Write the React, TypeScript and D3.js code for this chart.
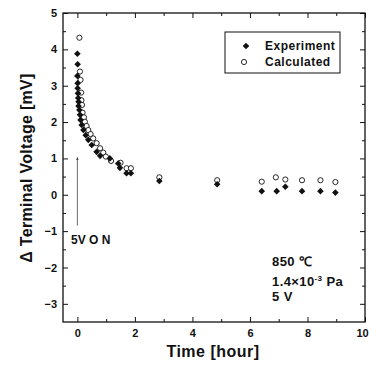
import { useEffect, useRef } from "react";
import * as d3 from "d3";

// Experiment (filled diamonds)
const expTime = [0.0, 0.01, 0.0, 0.01, 0.01, 0.02, 0.03, 0.04, 0.04, 0.07, 0.09, 0.11, 0.15, 0.21, 0.29, 0.38, 0.5, 0.67, 0.79, 1.13, 1.42, 1.48, 1.71, 1.86, 2.85, 4.86, 6.41, 6.93, 7.23, 7.81, 8.45, 8.97];
const expVolt = [3.88, 3.59, 3.27, 3.07, 2.93, 2.79, 2.66, 2.56, 2.44, 2.33, 2.2, 2.06, 1.92, 1.78, 1.64, 1.51, 1.37, 1.18, 1.07, 1.0, 0.86, 0.74, 0.59, 0.59, 0.38, 0.29, 0.1, 0.1, 0.22, 0.1, 0.1, 0.06];

// Calculated (open circles)
const calcTime = [0.07, 0.09, 0.11, 0.13, 0.14, 0.16, 0.18, 0.23, 0.26, 0.32, 0.38, 0.46, 0.55, 0.67, 0.79, 0.9, 0.99, 1.17, 1.5, 1.71, 1.86, 2.85, 4.86, 6.41, 6.9, 7.23, 7.81, 8.45, 8.97];
const calcVolt = [4.32, 3.39, 3.16, 2.81, 2.6, 2.47, 2.26, 2.13, 2.01, 1.89, 1.78, 1.67, 1.55, 1.42, 1.28, 1.16, 1.05, 0.93, 0.88, 0.73, 0.73, 0.48, 0.4, 0.36, 0.48, 0.42, 0.4, 0.4, 0.35];

const xTicks = [0, 2, 4, 6, 8, 10];
const xMinor = [1, 3, 5, 7, 9];
const yTicks = [-3, -2, -1, 0, 1, 2, 3, 4, 5];
const yMinor = [-2.5, -1.5, -0.5, 0.5, 1.5, 2.5, 3.5, 4.5];

const FONT = "'Liberation Sans', Arial, sans-serif";

export default function App() {
  const svgRef = useRef<SVGSVGElement | null>(null);

  useEffect(() => {
    if (!svgRef.current) return;
    const svg = d3.select(svgRef.current);
    svg.selectAll("*").remove();

    const left = 63, right = 365, top = 13, bottom = 322;

    const x = d3.scaleLinear().domain([-0.5, 10]).range([left, right]);
    const y = d3.scaleLinear().domain([-3.5, 5]).range([bottom, top]);

    const styleAxis = (g: any) => {
      g.select(".domain").remove();
      g.selectAll("line").attr("stroke", "#111").attr("stroke-width", 1);
      g.selectAll("text")
        .attr("fill", "#111")
        .style("font-family", FONT)
        .style("font-weight", "bold")
        .style("font-size", "11px");
    };

    // bottom
    const bx = svg.append("g").attr("transform", `translate(0,${bottom})`)
      .call(d3.axisBottom(x).tickValues(xTicks).tickSize(-5).tickPadding(7).tickFormat(d3.format("d")))
      .call(styleAxis);
    // last label sits at the right edge, nudge it in a little
    bx.selectAll("text").filter((d: any) => d === 10).attr("dx", -3);
    svg.append("g").attr("transform", `translate(0,${bottom})`)
      .call(d3.axisBottom(x).tickValues(xMinor).tickSize(-3).tickFormat(() => ""))
      .call(styleAxis);
    // top
    svg.append("g").attr("transform", `translate(0,${top})`)
      .call(d3.axisTop(x).tickValues(xTicks).tickSize(-5).tickFormat(() => ""))
      .call(styleAxis);
    svg.append("g").attr("transform", `translate(0,${top})`)
      .call(d3.axisTop(x).tickValues(xMinor).tickSize(-3).tickFormat(() => ""))
      .call(styleAxis);
    // left
    svg.append("g").attr("transform", `translate(${left},0)`)
      .call(d3.axisLeft(y).tickValues(yTicks).tickSize(-5).tickPadding(6).tickFormat(d3.format("d")))
      .call(styleAxis);
    svg.append("g").attr("transform", `translate(${left},0)`)
      .call(d3.axisLeft(y).tickValues(yMinor).tickSize(-3).tickFormat(() => ""))
      .call(styleAxis);
    // right
    svg.append("g").attr("transform", `translate(${right},0)`)
      .call(d3.axisRight(y).tickValues(yTicks).tickSize(-5).tickFormat(() => ""))
      .call(styleAxis);
    svg.append("g").attr("transform", `translate(${right},0)`)
      .call(d3.axisRight(y).tickValues(yMinor).tickSize(-3).tickFormat(() => ""))
      .call(styleAxis);

    // frame
    svg.append("rect")
      .attr("x", left).attr("y", top)
      .attr("width", right - left).attr("height", bottom - top)
      .attr("fill", "none").attr("stroke", "#111").attr("stroke-width", 1.3);

    // 5V ON arrow
    svg.append("defs").append("marker")
      .attr("id", "arr").attr("viewBox", "0 0 10 10")
      .attr("refX", 5).attr("refY", 5)
      .attr("markerWidth", 5).attr("markerHeight", 8)
      .attr("orient", "auto")
      .append("path").attr("d", "M0,2 L10,5 L0,8 Z").attr("fill", "#333");
    svg.append("line")
      .attr("x1", x(0)).attr("x2", x(0))
      .attr("y1", y(-0.85)).attr("y2", y(1.0))
      .attr("stroke", "#444").attr("stroke-width", 0.8)
      .attr("marker-end", "url(#arr)");
    svg.append("text")
      .attr("x", x(-0.22)).attr("y", y(-1.35))
      .style("font-family", FONT).style("font-weight", "bold").style("font-size", "12px")
      .attr("fill", "#111")
      .text("5V  O N");

    // square rotated 45 degrees
    const diamond = "M0,-3.3 L3.3,0 L0,3.3 L-3.3,0 Z";

    // calculated circles
    svg.append("g").selectAll("circle")
      .data(calcTime.map((t, i) => [t, calcVolt[i]]))
      .join("circle")
      .attr("cx", d => x(d[0])).attr("cy", d => y(d[1]))
      .attr("r", 2.6)
      .attr("fill", "white").attr("stroke", "#111").attr("stroke-width", 0.9);

    // experiment diamonds
    svg.append("g").selectAll("path")
      .data(expTime.map((t, i) => [t, expVolt[i]]))
      .join("path")
      .attr("d", diamond)
      .attr("transform", d => `translate(${x(d[0])},${y(d[1])})`)
      .attr("fill", "#111");

    // legend
    const lg = svg.append("g");
    lg.append("rect")
      .attr("x", 225).attr("y", 32).attr("width", 115).attr("height", 41)
      .attr("fill", "white").attr("stroke", "#111").attr("stroke-width", 1);
    lg.append("path").attr("d", diamond)
      .attr("transform", "translate(246,46)").attr("fill", "#111");
    lg.append("circle").attr("cx", 244).attr("cy", 62).attr("r", 2.6)
      .attr("fill", "white").attr("stroke", "#111").attr("stroke-width", 0.9);
    const legendText = ["Experiment", "Calculated"];
    lg.selectAll("text.lab").data(legendText).join("text")
      .attr("x", 265).attr("y", (d, i) => 50 + i * 16)
      .style("font-family", FONT).style("font-weight", "bold").style("font-size", "12px")
      .style("letter-spacing", "0.5px")
      .attr("fill", "#111")
      .text(d => d);

    // conditions
    const cond = svg.append("g")
      .style("font-family", FONT).style("font-weight", "bold").style("font-size", "13px")
      .style("letter-spacing", "0.4px")
      .attr("fill", "#111");
    cond.append("text").attr("x", 272).attr("y", 266).text("850 ℃");
    const t2 = cond.append("text").attr("x", 272).attr("y", 286);
    t2.append("tspan").text("1.4×10");
    t2.append("tspan").attr("dy", -5).style("font-size", "8px").text("-3");
    t2.append("tspan").attr("dy", 5).text(" Pa");
    cond.append("text").attr("x", 272).attr("y", 301).text("5 V");

    // axis titles
    svg.append("text")
      .attr("x", (left + right) / 2 - 1).attr("y", 357)
      .attr("text-anchor", "middle")
      .style("font-family", FONT).style("font-weight", "bold").style("font-size", "16px")
      .style("letter-spacing", "0.5px")
      .attr("fill", "#111")
      .text("Time [hour]");
    svg.append("text")
      .attr("transform", `translate(32,168) rotate(-90)`)
      .attr("text-anchor", "middle")
      .style("font-family", FONT).style("font-weight", "bold").style("font-size", "16px")
      .style("letter-spacing", "0.3px")
      .attr("fill", "#111")
      .text("Δ Terminal Voltage [mV]");
  }, []);

  return (
    <svg
      ref={svgRef}
      width={369}
      height={369}
      style={{ position: "absolute", left: 0, top: 0, background: "white" }}
    />
  );
}
